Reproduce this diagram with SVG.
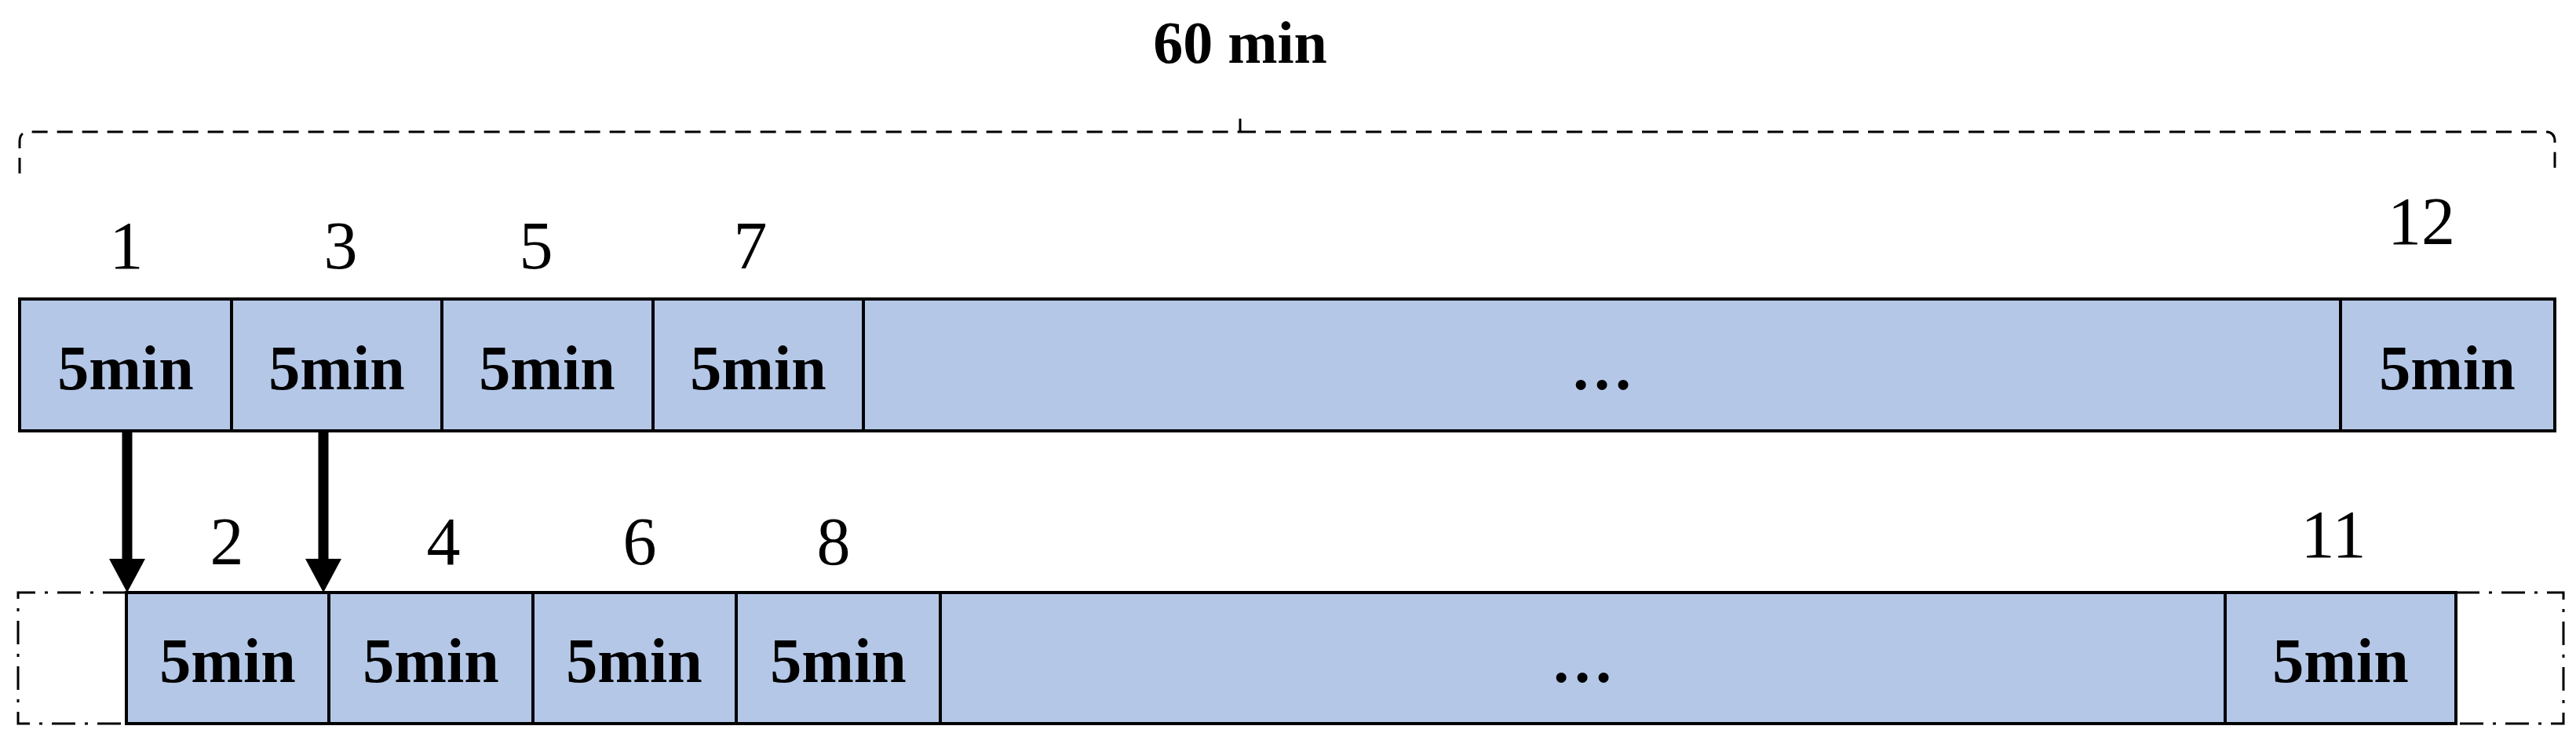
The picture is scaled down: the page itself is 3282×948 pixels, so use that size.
<svg xmlns="http://www.w3.org/2000/svg" width="3282" height="948" viewBox="0 0 3282 948">
<style>
.c{fill:#b4c7e7;stroke:#000;stroke-width:4}
.t{font-family:"Liberation Serif",serif;font-weight:bold;font-size:80px;text-anchor:middle}
.n{font-family:"Liberation Serif",serif;font-size:86px;text-anchor:middle}
.d{fill:none;stroke:#000;stroke-width:3;stroke-dasharray:20 12}
.dd{fill:none;stroke:#000;stroke-width:3;stroke-dasharray:30 12 4 12}
</style>
<defs><marker id="a" markerWidth="7" markerHeight="6" refX="7" refY="3" orient="auto" markerUnits="strokeWidth"><path d="M0,0L7,3L0,6z"/></marker></defs>
<rect width="3282" height="948" fill="#fff"/>
<path class="d" d="M25,221V180Q25,168 37,168H1580V142M1580,168H3243Q3255,168 3255,180V221"/>
<text x="1580" y="80" font-family="Liberation Serif,serif" font-weight="bold" font-size="76" text-anchor="middle">60 min</text>
<path class="dd" d="M161,755H23V922H161M3129,755H3266V922H3129"/>
<g id="top">
<g id="t1"><rect class="c" x="25" y="381" width="270" height="168"/><text class="t" x="160" y="496">5min</text></g>
<g id="t3"><rect class="c" x="295" y="381" width="268" height="168"/><text class="t" x="429" y="496">5min</text></g>
<g id="t5"><rect class="c" x="563" y="381" width="269" height="168"/><text class="t" x="697" y="496">5min</text></g>
<g id="t7"><rect class="c" x="832" y="381" width="268" height="168"/><text class="t" x="966" y="496">5min</text></g>
<g id="tm"><rect class="c" x="1100" y="381" width="1882" height="168"/><text class="t" x="2041" y="496">…</text></g>
<g id="t12"><rect class="c" x="2982" y="381" width="273" height="168"/><text class="t" x="3118" y="496">5min</text></g>
</g>
<g id="bot">
<g id="b2"><rect class="c" x="161" y="755" width="258" height="167"/><text class="t" x="290" y="869">5min</text></g>
<g id="b4"><rect class="c" x="419" y="755" width="260" height="167"/><text class="t" x="549" y="869">5min</text></g>
<g id="b6"><rect class="c" x="679" y="755" width="259" height="167"/><text class="t" x="808" y="869">5min</text></g>
<g id="b8"><rect class="c" x="938" y="755" width="260" height="167"/><text class="t" x="1068" y="869">5min</text></g>
<g id="bm"><rect class="c" x="1198" y="755" width="1637" height="167"/><text class="t" x="2016" y="869">…</text></g>
<g id="b11"><rect class="c" x="2835" y="755" width="294" height="167"/><text class="t" x="2982" y="869">5min</text></g>
</g>
<g id="labels">
<text class="n" x="161" y="342">1</text><text class="n" x="434" y="342">3</text><text class="n" x="683" y="342">5</text><text class="n" x="956" y="342">7</text><text class="n" x="3085" y="311">12</text>
<text class="n" x="289" y="719">2</text><text class="n" x="565" y="719">4</text><text class="n" x="815" y="719">6</text><text class="n" x="1062" y="719">8</text><text class="n" x="2973" y="710">11</text>
</g>
<g id="connectors" stroke="#000" stroke-width="13">
<line x1="162" y1="549" x2="162" y2="712"/><path d="M139,712H185L162,755z" stroke="none"/>
<line x1="412" y1="549" x2="412" y2="712"/><path d="M389,712H435L412,755z" stroke="none"/>
</g>
</svg>
